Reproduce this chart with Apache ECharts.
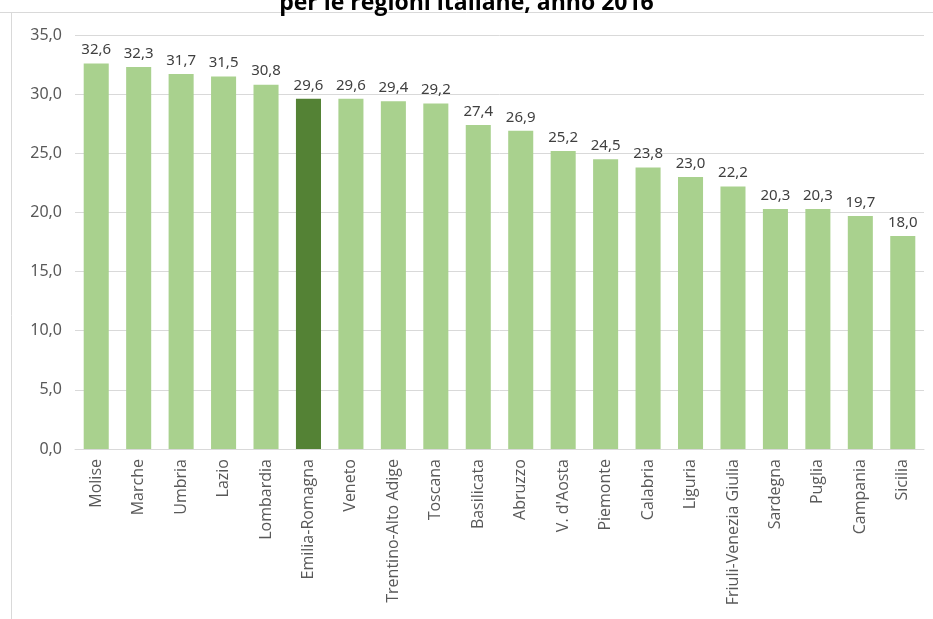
<!DOCTYPE html>
<html>
<head>
<meta charset="utf-8">
<script src="https://cdn.jsdelivr.net/npm/echarts@6/dist/echarts.min.js"></script>
<style>
html,body{margin:0;padding:0;background:#fff;}
#chart{width:933px;height:619px;}
</style>
</head>
<body>
<div id="chart"></div>
<script>
const titleText = "per le regioni italiane, anno 2016";
const regions = ["Molise","Marche","Umbria","Lazio","Lombardia","Emilia-Romagna","Veneto","Trentino-Alto Adige","Toscana","Basilicata","Abruzzo","V. d'Aosta","Piemonte","Calabria","Liguria","Friuli-Venezia Giulia","Sardegna","Puglia","Campania","Sicilia"];
const values = [32.6,32.3,31.7,31.5,30.8,29.6,29.6,29.4,29.2,27.4,26.9,25.2,24.5,23.8,23.0,22.2,20.3,20.3,19.7,18.0];
const highlighted = "Emilia-Romagna";

const fmt = v => v.toFixed(1).replace('.', ',');
const chart = echarts.init(document.getElementById('chart'), null, {renderer:'canvas'});
chart.setOption({
  animation:false,
  backgroundColor:'#fff',
  title:{
    text:titleText, left:'center', top:-13,
    textStyle:{fontFamily:'Open Sans', fontWeight:'bold', fontSize:23, color:'#000', lineHeight:23}
  },
  graphic:[
    {type:'rect', shape:{x:0,y:12,width:933,height:607}, style:{fill:'#fff'}, z:-1},
    {type:'line', shape:{x1:0,y1:12.5,x2:933,y2:12.5}, style:{stroke:'#d9d9d9',lineWidth:1}},
    {type:'line', shape:{x1:11.5,y1:12,x2:11.5,y2:619}, style:{stroke:'#d9d9d9',lineWidth:1}}
  ],
  grid:{left:75, right:9, top:35, bottom:170},
  xAxis:{
    type:'category', data:regions,
    axisLine:{lineStyle:{color:'#d9d9d9'}},
    axisTick:{show:false},
    axisLabel:{rotate:90, margin:10, interval:0, fontFamily:'Open Sans', fontSize:16, color:'#595959'}
  },
  yAxis:{
    type:'value', min:0, max:35, interval:5,
    axisLine:{show:false}, axisTick:{show:false},
    splitLine:{lineStyle:{color:'#d9d9d9'}},
    axisLabel:{formatter:fmt, fontFamily:'Noto Sans', fontSize:16, color:'#595959', margin:13}
  },
  series:[{
    type:'bar', barCategoryGap:'41%',
    data:values.map((v,i)=>({value:v, itemStyle:{color: regions[i]===highlighted ? '#548235' : '#a9d18e'}})),
    label:{show:true, position:'top', distance:6, formatter:p=>fmt(p.value), fontFamily:'Noto Sans', fontSize:15, color:'#404040'}
  }]
});
</script>
</body>
</html>
